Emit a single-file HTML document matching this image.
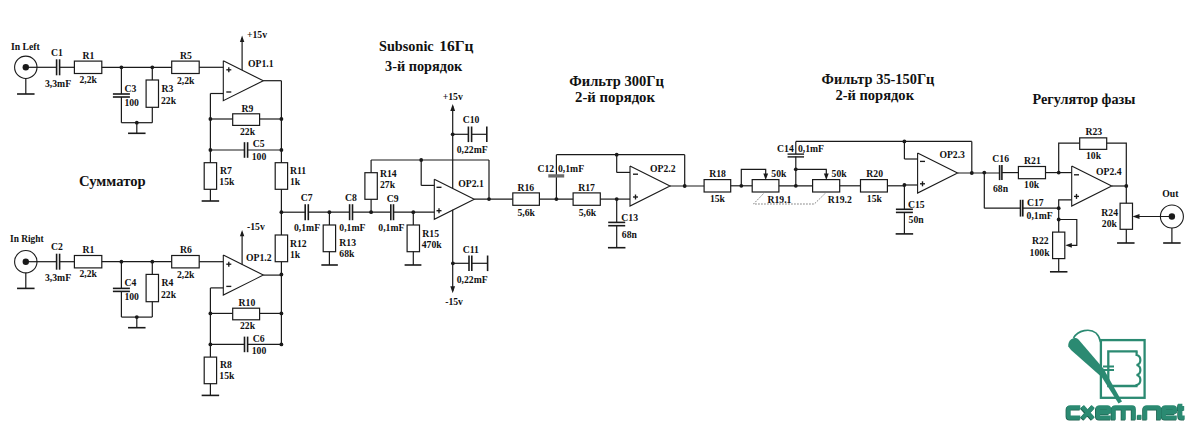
<!DOCTYPE html>
<html><head><meta charset="utf-8"><style>
html,body{margin:0;padding:0;background:#fff;}
svg{display:block}
text{font-family:"Liberation Serif",serif;font-weight:bold;fill:#111;}
</style></head><body>
<svg width="1200" height="434" viewBox="0 0 1200 434">
<rect width="1200" height="434" fill="#fff"/>
<text x="11" y="49.5" font-size="9.7">In Left</text>
<circle cx="25.8" cy="67.3" r="11.2" stroke="#1a1a1a" stroke-width="1.1" fill="none"/>
<circle cx="25.8" cy="67.3" r="3.2" fill="#1a1a1a"/>
<line x1="25.8" y1="78.5" x2="25.8" y2="94" stroke="#1a1a1a" stroke-width="1.2" />
<line x1="17.05" y1="94" x2="34.55" y2="94" stroke="#1a1a1a" stroke-width="1.6" />
<line x1="25.8" y1="67.3" x2="56.6" y2="67.3" stroke="#1a1a1a" stroke-width="1.2" />
<line x1="56.6" y1="59.3" x2="56.6" y2="75.3" stroke="#1a1a1a" stroke-width="1.6" />
<line x1="59.6" y1="59.3" x2="59.6" y2="75.3" stroke="#1a1a1a" stroke-width="1.6" />
<line x1="59.6" y1="67.3" x2="74.4" y2="67.3" stroke="#1a1a1a" stroke-width="1.2" />
<rect x="74.4" y="61.099999999999994" width="27.39999999999999" height="12.400000000000006" stroke="#1a1a1a" stroke-width="1.2" fill="none"/>
<line x1="101.8" y1="67.3" x2="171.7" y2="67.3" stroke="#1a1a1a" stroke-width="1.2" />
<rect x="171.7" y="61.099999999999994" width="27.5" height="12.400000000000006" stroke="#1a1a1a" stroke-width="1.2" fill="none"/>
<line x1="199.2" y1="67.3" x2="223.3" y2="67.3" stroke="#1a1a1a" stroke-width="1.2" />
<text x="51" y="55.8" font-size="9.7">C1</text>
<text x="45" y="87" font-size="9.7">3,3mF</text>
<text x="82.5" y="58.8" font-size="9.7">R1</text>
<text x="79.5" y="83" font-size="9.7">2,2k</text>
<circle cx="121.4" cy="67.3" r="1.9" fill="#1a1a1a"/>
<line x1="121.4" y1="67.3" x2="121.4" y2="94" stroke="#1a1a1a" stroke-width="1.2" />
<line x1="112.9" y1="94" x2="129.9" y2="94" stroke="#1a1a1a" stroke-width="1.6" />
<line x1="112.9" y1="97" x2="129.9" y2="97" stroke="#1a1a1a" stroke-width="1.6" />
<line x1="121.4" y1="97" x2="121.4" y2="122.7" stroke="#1a1a1a" stroke-width="1.2" />
<text x="124.4" y="91.7" font-size="9.7">C3</text>
<text x="124.4" y="106" font-size="9.7">100</text>
<circle cx="152.3" cy="67.3" r="1.9" fill="#1a1a1a"/>
<line x1="152.3" y1="67.3" x2="152.3" y2="80" stroke="#1a1a1a" stroke-width="1.2" />
<rect x="146.10000000000002" y="80" width="12.399999999999977" height="27.299999999999997" stroke="#1a1a1a" stroke-width="1.2" fill="none"/>
<line x1="152.3" y1="107.3" x2="152.3" y2="122.7" stroke="#1a1a1a" stroke-width="1.2" />
<text x="161.5" y="91.7" font-size="9.7">R3</text>
<text x="161" y="104" font-size="9.7">22k</text>
<line x1="121.4" y1="122.7" x2="152.3" y2="122.7" stroke="#1a1a1a" stroke-width="1.2" />
<circle cx="136.8" cy="122.7" r="1.9" fill="#1a1a1a"/>
<line x1="136.8" y1="122.7" x2="136.8" y2="133.3" stroke="#1a1a1a" stroke-width="1.2" />
<line x1="128.05" y1="133.3" x2="145.55" y2="133.3" stroke="#1a1a1a" stroke-width="1.6" />
<text x="180" y="59" font-size="9.7">R5</text>
<text x="177" y="84" font-size="9.7">2,2k</text>
<polyline points="223.3,60.7 223.3,100.7 263.3,80.7 223.3,60.7" stroke="#1a1a1a" stroke-width="1.1" fill="none" />
<line x1="226.3" y1="69.8" x2="231.3" y2="69.8" stroke="#1a1a1a" stroke-width="1.35" />
<line x1="228.8" y1="67.3" x2="228.8" y2="72.3" stroke="#1a1a1a" stroke-width="1.35" />
<line x1="226.3" y1="92" x2="231.3" y2="92" stroke="#1a1a1a" stroke-width="1.35" />
<text x="248" y="66.7" font-size="9.7">OP1.1</text>
<line x1="242.1" y1="70.1" x2="242.1" y2="38" stroke="#1a1a1a" stroke-width="1.2" />
<polygon points="242.1,35.6 239.9,41.9 244.29999999999998,41.9" fill="#1a1a1a"/>
<text x="247" y="37.6" font-size="9.7">+15v</text>
<line x1="223.3" y1="93.5" x2="210.4" y2="93.5" stroke="#1a1a1a" stroke-width="1.2" />
<line x1="210.4" y1="93.5" x2="210.4" y2="162.7" stroke="#1a1a1a" stroke-width="1.2" />
<line x1="263.3" y1="80.7" x2="281.4" y2="80.7" stroke="#1a1a1a" stroke-width="1.2" />
<line x1="210.4" y1="119" x2="232.7" y2="119" stroke="#1a1a1a" stroke-width="1.2" />
<rect x="232.7" y="113.8" width="26.900000000000034" height="11.599999999999994" stroke="#1a1a1a" stroke-width="1.2" fill="none"/>
<line x1="259.6" y1="119" x2="281.4" y2="119" stroke="#1a1a1a" stroke-width="1.2" />
<text x="241.5" y="111.7" font-size="9.7">R9</text>
<text x="240" y="135" font-size="9.7">22k</text>
<line x1="210.4" y1="150" x2="244.5" y2="150" stroke="#1a1a1a" stroke-width="1.2" />
<line x1="244.5" y1="142.2" x2="244.5" y2="157.8" stroke="#1a1a1a" stroke-width="1.6" />
<line x1="247.6" y1="142.2" x2="247.6" y2="157.8" stroke="#1a1a1a" stroke-width="1.6" />
<line x1="247.6" y1="150" x2="281.4" y2="150" stroke="#1a1a1a" stroke-width="1.2" />
<text x="252.7" y="147.3" font-size="9.7">C5</text>
<text x="251.7" y="160" font-size="9.7">100</text>
<circle cx="210.4" cy="119" r="1.9" fill="#1a1a1a"/>
<circle cx="281.4" cy="119" r="1.9" fill="#1a1a1a"/>
<circle cx="210.4" cy="150" r="1.9" fill="#1a1a1a"/>
<circle cx="281.4" cy="150" r="1.9" fill="#1a1a1a"/>
<rect x="204.20000000000002" y="162.7" width="12.399999999999977" height="26.600000000000023" stroke="#1a1a1a" stroke-width="1.2" fill="none"/>
<line x1="210.4" y1="189.3" x2="210.4" y2="201" stroke="#1a1a1a" stroke-width="1.2" />
<line x1="201.65" y1="201" x2="219.15" y2="201" stroke="#1a1a1a" stroke-width="1.6" />
<text x="220" y="174" font-size="9.7">R7</text>
<text x="219.3" y="185" font-size="9.7">15k</text>
<text x="10" y="242.0" font-size="9.4">In Right</text>
<circle cx="25.8" cy="261.7" r="11.2" stroke="#1a1a1a" stroke-width="1.1" fill="none"/>
<circle cx="25.8" cy="261.7" r="3.2" fill="#1a1a1a"/>
<line x1="25.8" y1="272.9" x2="25.8" y2="288.4" stroke="#1a1a1a" stroke-width="1.2" />
<line x1="17.05" y1="288.4" x2="34.55" y2="288.4" stroke="#1a1a1a" stroke-width="1.6" />
<line x1="25.8" y1="261.7" x2="56.6" y2="261.7" stroke="#1a1a1a" stroke-width="1.2" />
<line x1="56.6" y1="253.7" x2="56.6" y2="269.7" stroke="#1a1a1a" stroke-width="1.6" />
<line x1="59.6" y1="253.7" x2="59.6" y2="269.7" stroke="#1a1a1a" stroke-width="1.6" />
<line x1="59.6" y1="261.7" x2="74.4" y2="261.7" stroke="#1a1a1a" stroke-width="1.2" />
<rect x="74.4" y="255.5" width="27.39999999999999" height="12.399999999999977" stroke="#1a1a1a" stroke-width="1.2" fill="none"/>
<line x1="101.8" y1="261.7" x2="171.7" y2="261.7" stroke="#1a1a1a" stroke-width="1.2" />
<rect x="171.7" y="255.5" width="27.5" height="12.399999999999977" stroke="#1a1a1a" stroke-width="1.2" fill="none"/>
<line x1="199.2" y1="261.7" x2="223.3" y2="261.7" stroke="#1a1a1a" stroke-width="1.2" />
<text x="51" y="250.2" font-size="9.7">C2</text>
<text x="45" y="281.4" font-size="9.7">3,3mF</text>
<text x="82.5" y="253.2" font-size="9.7">R1</text>
<text x="79.5" y="277.4" font-size="9.7">2,2k</text>
<circle cx="121.4" cy="261.7" r="1.9" fill="#1a1a1a"/>
<line x1="121.4" y1="261.7" x2="121.4" y2="288.4" stroke="#1a1a1a" stroke-width="1.2" />
<line x1="112.9" y1="288.4" x2="129.9" y2="288.4" stroke="#1a1a1a" stroke-width="1.6" />
<line x1="112.9" y1="291.4" x2="129.9" y2="291.4" stroke="#1a1a1a" stroke-width="1.6" />
<line x1="121.4" y1="291.4" x2="121.4" y2="317.1" stroke="#1a1a1a" stroke-width="1.2" />
<text x="124.4" y="286.1" font-size="9.7">C4</text>
<text x="124.4" y="300.4" font-size="9.7">100</text>
<circle cx="152.3" cy="261.7" r="1.9" fill="#1a1a1a"/>
<line x1="152.3" y1="261.7" x2="152.3" y2="274.4" stroke="#1a1a1a" stroke-width="1.2" />
<rect x="146.10000000000002" y="274.4" width="12.399999999999977" height="27.30000000000001" stroke="#1a1a1a" stroke-width="1.2" fill="none"/>
<line x1="152.3" y1="301.7" x2="152.3" y2="317.1" stroke="#1a1a1a" stroke-width="1.2" />
<text x="161.5" y="286.1" font-size="9.7">R4</text>
<text x="161" y="298.4" font-size="9.7">22k</text>
<line x1="121.4" y1="317.1" x2="152.3" y2="317.1" stroke="#1a1a1a" stroke-width="1.2" />
<circle cx="136.8" cy="317.1" r="1.9" fill="#1a1a1a"/>
<line x1="136.8" y1="317.1" x2="136.8" y2="327.70000000000005" stroke="#1a1a1a" stroke-width="1.2" />
<line x1="128.05" y1="327.70000000000005" x2="145.55" y2="327.70000000000005" stroke="#1a1a1a" stroke-width="1.6" />
<text x="180" y="253.4" font-size="9.7">R6</text>
<text x="177" y="278.4" font-size="9.7">2,2k</text>
<polyline points="223.3,255.10000000000002 223.3,295.1 263.3,275.1 223.3,255.10000000000002" stroke="#1a1a1a" stroke-width="1.1" fill="none" />
<line x1="226.3" y1="264.2" x2="231.3" y2="264.2" stroke="#1a1a1a" stroke-width="1.35" />
<line x1="228.8" y1="261.7" x2="228.8" y2="266.7" stroke="#1a1a1a" stroke-width="1.35" />
<line x1="226.3" y1="286.4" x2="231.3" y2="286.4" stroke="#1a1a1a" stroke-width="1.35" />
<text x="246" y="261.1" font-size="9.7">OP1.2</text>
<line x1="242.1" y1="264.5" x2="242.1" y2="232.4" stroke="#1a1a1a" stroke-width="1.2" />
<polygon points="242.1,230.0 239.9,236.3 244.29999999999998,236.3" fill="#1a1a1a"/>
<text x="247" y="230.0" font-size="9.7">-15v</text>
<line x1="223.3" y1="287.9" x2="210.4" y2="287.9" stroke="#1a1a1a" stroke-width="1.2" />
<line x1="210.4" y1="287.9" x2="210.4" y2="357.1" stroke="#1a1a1a" stroke-width="1.2" />
<line x1="263.3" y1="275.1" x2="281.4" y2="275.1" stroke="#1a1a1a" stroke-width="1.2" />
<line x1="210.4" y1="313.4" x2="232.7" y2="313.4" stroke="#1a1a1a" stroke-width="1.2" />
<rect x="232.7" y="308.2" width="26.900000000000034" height="11.600000000000023" stroke="#1a1a1a" stroke-width="1.2" fill="none"/>
<line x1="259.6" y1="313.4" x2="281.4" y2="313.4" stroke="#1a1a1a" stroke-width="1.2" />
<text x="238.6" y="306.1" font-size="9.7">R10</text>
<text x="240" y="329.4" font-size="9.7">22k</text>
<line x1="210.4" y1="344.4" x2="244.5" y2="344.4" stroke="#1a1a1a" stroke-width="1.2" />
<line x1="244.5" y1="336.59999999999997" x2="244.5" y2="352.2" stroke="#1a1a1a" stroke-width="1.6" />
<line x1="247.6" y1="336.59999999999997" x2="247.6" y2="352.2" stroke="#1a1a1a" stroke-width="1.6" />
<line x1="247.6" y1="344.4" x2="281.4" y2="344.4" stroke="#1a1a1a" stroke-width="1.2" />
<text x="252.7" y="341.70000000000005" font-size="9.7">C6</text>
<text x="251.7" y="354.4" font-size="9.7">100</text>
<circle cx="210.4" cy="313.4" r="1.9" fill="#1a1a1a"/>
<circle cx="281.4" cy="313.4" r="1.9" fill="#1a1a1a"/>
<circle cx="210.4" cy="344.4" r="1.9" fill="#1a1a1a"/>
<circle cx="281.4" cy="344.4" r="1.9" fill="#1a1a1a"/>
<rect x="204.20000000000002" y="357.1" width="12.399999999999977" height="26.600000000000023" stroke="#1a1a1a" stroke-width="1.2" fill="none"/>
<line x1="210.4" y1="383.70000000000005" x2="210.4" y2="395.4" stroke="#1a1a1a" stroke-width="1.2" />
<line x1="201.65" y1="395.4" x2="219.15" y2="395.4" stroke="#1a1a1a" stroke-width="1.6" />
<text x="220" y="368.4" font-size="9.7">R8</text>
<text x="219.3" y="379.4" font-size="9.7">15k</text>
<line x1="281.4" y1="80.7" x2="281.4" y2="162.7" stroke="#1a1a1a" stroke-width="1.2" />
<rect x="275.2" y="162.7" width="12.399999999999977" height="26.600000000000023" stroke="#1a1a1a" stroke-width="1.2" fill="none"/>
<line x1="281.4" y1="189.3" x2="281.4" y2="235" stroke="#1a1a1a" stroke-width="1.2" />
<rect x="275.2" y="235" width="12.399999999999977" height="26.69999999999999" stroke="#1a1a1a" stroke-width="1.2" fill="none"/>
<line x1="281.4" y1="261.7" x2="281.4" y2="344" stroke="#1a1a1a" stroke-width="1.2" />
<circle cx="281.4" cy="212.2" r="1.9" fill="#1a1a1a"/>
<circle cx="281.4" cy="274.5" r="1.9" fill="#1a1a1a"/>
<text x="290" y="174.3" font-size="9.7">R11</text>
<text x="290" y="185" font-size="9.7">1k</text>
<text x="290" y="247.3" font-size="9.7">R12</text>
<text x="290" y="258.3" font-size="9.7">1k</text>
<text x="79" y="185.6" font-size="15" textLength="66.7" lengthAdjust="spacingAndGlyphs">Сумматор</text>
<line x1="281.4" y1="212.2" x2="305.2" y2="212.2" stroke="#1a1a1a" stroke-width="1.2" />
<line x1="305.2" y1="204.2" x2="305.2" y2="220.2" stroke="#1a1a1a" stroke-width="1.6" />
<line x1="308.3" y1="204.2" x2="308.3" y2="220.2" stroke="#1a1a1a" stroke-width="1.6" />
<line x1="308.3" y1="212.2" x2="349.6" y2="212.2" stroke="#1a1a1a" stroke-width="1.2" />
<line x1="349.6" y1="204.2" x2="349.6" y2="220.2" stroke="#1a1a1a" stroke-width="1.6" />
<line x1="352.5" y1="204.2" x2="352.5" y2="220.2" stroke="#1a1a1a" stroke-width="1.6" />
<line x1="352.5" y1="212.2" x2="390.8" y2="212.2" stroke="#1a1a1a" stroke-width="1.2" />
<line x1="390.8" y1="204.2" x2="390.8" y2="220.2" stroke="#1a1a1a" stroke-width="1.6" />
<line x1="393.5" y1="204.2" x2="393.5" y2="220.2" stroke="#1a1a1a" stroke-width="1.6" />
<line x1="393.5" y1="212.2" x2="434.3" y2="212.2" stroke="#1a1a1a" stroke-width="1.2" />
<text x="300.7" y="200.7" font-size="9.7">C7</text>
<text x="294" y="230.5" font-size="9.7">0,1mF</text>
<circle cx="329.4" cy="212.2" r="1.9" fill="#1a1a1a"/>
<line x1="329.4" y1="212.2" x2="329.4" y2="225" stroke="#1a1a1a" stroke-width="1.2" />
<rect x="323.2" y="225" width="12.399999999999977" height="26.69999999999999" stroke="#1a1a1a" stroke-width="1.2" fill="none"/>
<line x1="329.4" y1="251.7" x2="329.4" y2="265" stroke="#1a1a1a" stroke-width="1.2" />
<line x1="321.35" y1="265" x2="337.85" y2="265" stroke="#1a1a1a" stroke-width="1.6" />
<text x="339.3" y="245.7" font-size="9.7">R13</text>
<text x="339.3" y="256.7" font-size="9.7">68k</text>
<text x="345" y="201" font-size="9.7">C8</text>
<text x="339.3" y="230.5" font-size="9.7">0,1mF</text>
<circle cx="371.1" cy="212.2" r="1.9" fill="#1a1a1a"/>
<line x1="371.1" y1="212.2" x2="371.1" y2="199.3" stroke="#1a1a1a" stroke-width="1.2" />
<rect x="364.90000000000003" y="172.7" width="12.399999999999977" height="26.600000000000023" stroke="#1a1a1a" stroke-width="1.2" fill="none"/>
<line x1="371.1" y1="172.7" x2="371.1" y2="160" stroke="#1a1a1a" stroke-width="1.2" />
<line x1="371.1" y1="160" x2="489" y2="160" stroke="#1a1a1a" stroke-width="1.2" />
<text x="380" y="177.3" font-size="9.7">R14</text>
<text x="380" y="188.3" font-size="9.7">27k</text>
<text x="386.7" y="201.5" font-size="9.7">C9</text>
<text x="378.3" y="231" font-size="9.7">0,1mF</text>
<circle cx="413.3" cy="212.2" r="1.9" fill="#1a1a1a"/>
<line x1="413.3" y1="212.2" x2="413.3" y2="225" stroke="#1a1a1a" stroke-width="1.2" />
<rect x="407.1" y="225" width="12.399999999999977" height="26.69999999999999" stroke="#1a1a1a" stroke-width="1.2" fill="none"/>
<line x1="413.3" y1="251.7" x2="413.3" y2="265" stroke="#1a1a1a" stroke-width="1.2" />
<line x1="404.6" y1="265" x2="421.4" y2="265" stroke="#1a1a1a" stroke-width="1.6" />
<text x="422.3" y="237.3" font-size="9.7">R15</text>
<text x="421.7" y="248.3" font-size="9.7">470k</text>
<polyline points="434.3,179.3 434.3,219.3 474.3,199.3 434.3,179.3" stroke="#1a1a1a" stroke-width="1.1" fill="none" />
<line x1="436.5" y1="210.7" x2="441.5" y2="210.7" stroke="#1a1a1a" stroke-width="1.35" />
<line x1="439" y1="208.2" x2="439" y2="213.2" stroke="#1a1a1a" stroke-width="1.35" />
<line x1="436.5" y1="187.3" x2="441.5" y2="187.3" stroke="#1a1a1a" stroke-width="1.35" />
<text x="458.3" y="186.7" font-size="9.7">OP2.1</text>
<circle cx="421.2" cy="160" r="1.9" fill="#1a1a1a"/>
<line x1="421.2" y1="160" x2="421.2" y2="185.4" stroke="#1a1a1a" stroke-width="1.2" />
<line x1="421.2" y1="185.4" x2="434.3" y2="185.4" stroke="#1a1a1a" stroke-width="1.2" />
<line x1="474.3" y1="199.1" x2="512.8" y2="199.1" stroke="#1a1a1a" stroke-width="1.2" />
<circle cx="489" cy="199.1" r="1.9" fill="#1a1a1a"/>
<line x1="489" y1="199.1" x2="489" y2="160" stroke="#1a1a1a" stroke-width="1.2" />
<line x1="452.7" y1="188.2" x2="452.7" y2="106" stroke="#1a1a1a" stroke-width="1.2" />
<polygon points="452.7,104 450.3,111 455.09999999999997,111" fill="#1a1a1a"/>
<text x="442.7" y="100" font-size="9.7">+15v</text>
<circle cx="452.7" cy="134.3" r="1.9" fill="#1a1a1a"/>
<line x1="452.7" y1="134.3" x2="468.4" y2="134.3" stroke="#1a1a1a" stroke-width="1.2" />
<line x1="468.4" y1="126.50000000000001" x2="468.4" y2="142.10000000000002" stroke="#1a1a1a" stroke-width="1.6" />
<line x1="471.6" y1="126.50000000000001" x2="471.6" y2="142.10000000000002" stroke="#1a1a1a" stroke-width="1.6" />
<line x1="471.6" y1="134.3" x2="486.8" y2="134.3" stroke="#1a1a1a" stroke-width="1.2" />
<line x1="486.8" y1="126.5" x2="486.8" y2="142.1" stroke="#1a1a1a" stroke-width="1.6" />
<text x="462.7" y="123.3" font-size="9.7">C10</text>
<text x="456.7" y="152.5" font-size="9.7">0,22mF</text>
<line x1="452.7" y1="209.8" x2="452.7" y2="291" stroke="#1a1a1a" stroke-width="1.2" />
<polygon points="452.7,293.3 450.3,286.3 455.09999999999997,286.3" fill="#1a1a1a"/>
<circle cx="452.9" cy="263.3" r="1.9" fill="#1a1a1a"/>
<line x1="452.9" y1="263.3" x2="469" y2="263.3" stroke="#1a1a1a" stroke-width="1.2" />
<line x1="469" y1="255.5" x2="469" y2="271.1" stroke="#1a1a1a" stroke-width="1.6" />
<line x1="471.8" y1="255.5" x2="471.8" y2="271.1" stroke="#1a1a1a" stroke-width="1.6" />
<line x1="471.8" y1="263.3" x2="487.6" y2="263.3" stroke="#1a1a1a" stroke-width="1.2" />
<line x1="487.6" y1="255.5" x2="487.6" y2="271.1" stroke="#1a1a1a" stroke-width="1.6" />
<text x="462.7" y="253.3" font-size="9.7">C11</text>
<text x="456.7" y="282.5" font-size="9.7">0,22mF</text>
<text x="445.2" y="305" font-size="9.7">-15v</text>
<text x="379" y="51.4" font-size="15" textLength="54.7" lengthAdjust="spacingAndGlyphs">Subsonic</text>
<text x="439.3" y="51.4" font-size="15" textLength="34.2" lengthAdjust="spacingAndGlyphs">16Гц</text>
<text x="385" y="71.3" font-size="15" textLength="77.3" lengthAdjust="spacingAndGlyphs">3-й порядок</text>
<rect x="512.8" y="192.9" width="26.600000000000023" height="12.399999999999977" stroke="#1a1a1a" stroke-width="1.2" fill="none"/>
<line x1="539.4" y1="199.1" x2="573.1" y2="199.1" stroke="#1a1a1a" stroke-width="1.2" />
<rect x="573.1" y="192.9" width="27.199999999999932" height="12.399999999999977" stroke="#1a1a1a" stroke-width="1.2" fill="none"/>
<line x1="600.3" y1="199.1" x2="630" y2="199.1" stroke="#1a1a1a" stroke-width="1.2" />
<text x="517.4" y="190.7" font-size="9.7">R16</text>
<text x="517.4" y="215.5" font-size="9.7">5,6k</text>
<text x="578.2" y="190.7" font-size="9.7">R17</text>
<text x="578.7" y="215.5" font-size="9.7">5,6k</text>
<circle cx="556.4" cy="199.1" r="1.9" fill="#1a1a1a"/>
<line x1="556.4" y1="199.1" x2="556.4" y2="154.7" stroke="#1a1a1a" stroke-width="1.2" />
<line x1="548.3" y1="175.9" x2="564.2" y2="175.9" stroke="#6a6a6a" stroke-width="3.3" />
<line x1="556.4" y1="154.7" x2="684.7" y2="154.7" stroke="#1a1a1a" stroke-width="1.2" />
<circle cx="616.7" cy="154.7" r="1.9" fill="#1a1a1a"/>
<line x1="616.7" y1="154.7" x2="616.7" y2="172.4" stroke="#1a1a1a" stroke-width="1.2" />
<line x1="616.7" y1="172.4" x2="630" y2="172.4" stroke="#1a1a1a" stroke-width="1.2" />
<text x="537.4" y="171.7" font-size="9.7">C12</text>
<text x="558" y="171.7" font-size="9.7">0,1mF</text>
<polyline points="630,166 630,206 670,186.0 630,166" stroke="#1a1a1a" stroke-width="1.1" fill="none" />
<line x1="633.0" y1="197" x2="638.0" y2="197" stroke="#1a1a1a" stroke-width="1.35" />
<line x1="635.5" y1="194.5" x2="635.5" y2="199.5" stroke="#1a1a1a" stroke-width="1.35" />
<line x1="633.0" y1="174.2" x2="638.0" y2="174.2" stroke="#1a1a1a" stroke-width="1.35" />
<text x="650" y="171.7" font-size="9.7">OP2.2</text>
<line x1="670" y1="186" x2="704.1" y2="186" stroke="#1a1a1a" stroke-width="1.2" />
<circle cx="684.7" cy="186" r="1.9" fill="#1a1a1a"/>
<line x1="684.7" y1="186" x2="684.7" y2="154.7" stroke="#1a1a1a" stroke-width="1.2" />
<circle cx="616.7" cy="199.1" r="1.9" fill="#1a1a1a"/>
<line x1="616.7" y1="199.1" x2="616.7" y2="222.4" stroke="#1a1a1a" stroke-width="1.2" />
<line x1="608.2" y1="222.4" x2="625.2" y2="222.4" stroke="#1a1a1a" stroke-width="1.6" />
<line x1="608.2" y1="225.7" x2="625.2" y2="225.7" stroke="#1a1a1a" stroke-width="1.6" />
<line x1="616.7" y1="225.7" x2="616.7" y2="247.7" stroke="#1a1a1a" stroke-width="1.2" />
<line x1="607.95" y1="247.7" x2="625.45" y2="247.7" stroke="#1a1a1a" stroke-width="1.6" />
<text x="621.3" y="221" font-size="9.7">C13</text>
<text x="621.8" y="237.5" font-size="9.7">68n</text>
<text x="569.3" y="86.4" font-size="15" textLength="94.7" lengthAdjust="spacingAndGlyphs">Фильтр 300Гц</text>
<text x="575" y="101.5" font-size="15" textLength="80" lengthAdjust="spacingAndGlyphs">2-й порядок</text>
<rect x="704.1" y="179.60000000000002" width="26.600000000000023" height="12.399999999999977" stroke="#1a1a1a" stroke-width="1.2" fill="none"/>
<line x1="730.7" y1="185.8" x2="752.2" y2="185.8" stroke="#1a1a1a" stroke-width="1.2" />
<rect x="752.2" y="179.60000000000002" width="26.699999999999932" height="12.399999999999977" stroke="#1a1a1a" stroke-width="1.2" fill="none"/>
<line x1="778.9" y1="185.8" x2="812.6" y2="185.8" stroke="#1a1a1a" stroke-width="1.2" />
<rect x="812.6" y="179.60000000000002" width="27.100000000000023" height="12.399999999999977" stroke="#1a1a1a" stroke-width="1.2" fill="none"/>
<line x1="839.7" y1="185.8" x2="860.5" y2="185.8" stroke="#1a1a1a" stroke-width="1.2" />
<rect x="860.5" y="179.60000000000002" width="26.899999999999977" height="12.399999999999977" stroke="#1a1a1a" stroke-width="1.2" fill="none"/>
<line x1="887.4" y1="185.8" x2="904.4" y2="185.8" stroke="#1a1a1a" stroke-width="1.2" />
<line x1="904.4" y1="185" x2="917.6" y2="185" stroke="#1a1a1a" stroke-width="1.2" />
<text x="709.2" y="176.9" font-size="9.7">R18</text>
<text x="709.9" y="202.2" font-size="9.7">15k</text>
<circle cx="741.3" cy="185.8" r="1.9" fill="#1a1a1a"/>
<polyline points="741.3,185.8 741.3,169.3 765.7,169.3 765.7,174" stroke="#1a1a1a" stroke-width="1.2" fill="none" />
<polygon points="765.7,180 763.3000000000001,173.5 768.1,173.5" fill="#1a1a1a"/>
<text x="771.3" y="177.4" font-size="9.7">50k</text>
<text x="767.5" y="203" font-size="9.7">R19.1</text>
<circle cx="795.8" cy="185.8" r="1.9" fill="#1a1a1a"/>
<circle cx="795.8" cy="169.3" r="1.9" fill="#1a1a1a"/>
<polyline points="795.8,169.3 826.3,169.3 826.3,174" stroke="#1a1a1a" stroke-width="1.2" fill="none" />
<polygon points="826.3,180 823.9,173.5 828.6999999999999,173.5" fill="#1a1a1a"/>
<text x="831.6" y="177.4" font-size="9.7">50k</text>
<text x="827.8" y="203" font-size="9.7">R19.2</text>
<text x="866.3" y="176.9" font-size="9.7">R20</text>
<text x="866.8" y="202.2" font-size="9.7">15k</text>
<line x1="795.8" y1="185.8" x2="795.8" y2="156.6" stroke="#1a1a1a" stroke-width="1.2" />
<line x1="787.55" y1="154.1" x2="804.05" y2="154.1" stroke="#1a1a1a" stroke-width="1.4" />
<line x1="787.55" y1="156.9" x2="804.05" y2="156.9" stroke="#1a1a1a" stroke-width="1.4" />
<line x1="795.8" y1="154.1" x2="795.8" y2="141.4" stroke="#1a1a1a" stroke-width="1.2" />
<line x1="795.8" y1="141.4" x2="971.8" y2="141.4" stroke="#1a1a1a" stroke-width="1.2" />
<text x="777.1" y="151.5" font-size="9.7">C14</text>
<text x="797.9" y="151.5" font-size="9.7">0,1mF</text>
<polyline points="764.9,192.1 753.5,204 814.3,204 826.5,192.1" stroke="#7a7a7a" stroke-width="0.9" fill="none" stroke-dasharray="1.8,1.2"/>
<polyline points="917.6,153 917.6,193 957.6,173.0 917.6,153" stroke="#1a1a1a" stroke-width="1.1" fill="none" />
<line x1="920.0" y1="183.8" x2="925.0" y2="183.8" stroke="#1a1a1a" stroke-width="1.35" />
<line x1="922.5" y1="181.3" x2="922.5" y2="186.3" stroke="#1a1a1a" stroke-width="1.35" />
<line x1="920.0" y1="161.4" x2="925.0" y2="161.4" stroke="#1a1a1a" stroke-width="1.35" />
<text x="939.4" y="158.4" font-size="9.7">OP2.3</text>
<circle cx="904.4" cy="141.4" r="1.9" fill="#1a1a1a"/>
<line x1="904.4" y1="141.4" x2="904.4" y2="159" stroke="#1a1a1a" stroke-width="1.2" />
<line x1="904.4" y1="159" x2="917.6" y2="159" stroke="#1a1a1a" stroke-width="1.2" />
<circle cx="904.4" cy="185" r="1.9" fill="#1a1a1a"/>
<line x1="904.4" y1="185" x2="904.4" y2="209.3" stroke="#1a1a1a" stroke-width="1.2" />
<line x1="895.9" y1="209.3" x2="912.9" y2="209.3" stroke="#1a1a1a" stroke-width="1.6" />
<line x1="895.9" y1="212.4" x2="912.9" y2="212.4" stroke="#1a1a1a" stroke-width="1.6" />
<line x1="904.4" y1="212.4" x2="904.4" y2="233.9" stroke="#1a1a1a" stroke-width="1.2" />
<line x1="895.65" y1="233.9" x2="913.15" y2="233.9" stroke="#1a1a1a" stroke-width="1.6" />
<text x="908" y="207.8" font-size="9.7">C15</text>
<text x="908.6" y="222.5" font-size="9.7">50n</text>
<line x1="957.6" y1="173" x2="999.5" y2="173" stroke="#1a1a1a" stroke-width="1.2" />
<circle cx="971.8" cy="173" r="1.9" fill="#1a1a1a"/>
<line x1="971.8" y1="173" x2="971.8" y2="141.4" stroke="#1a1a1a" stroke-width="1.2" />
<text x="821.6" y="83.7" font-size="15" textLength="112.8" lengthAdjust="spacingAndGlyphs">Фильтр 35-150Гц</text>
<text x="835.4" y="99.5" font-size="15" textLength="78.6" lengthAdjust="spacingAndGlyphs">2-й порядок</text>
<circle cx="984.3" cy="172.6" r="1.9" fill="#1a1a1a"/>
<line x1="999.6" y1="165.1" x2="999.6" y2="180.1" stroke="#1a1a1a" stroke-width="1.6" />
<line x1="1001.9" y1="165.1" x2="1001.9" y2="180.1" stroke="#1a1a1a" stroke-width="1.6" />
<line x1="1001.9" y1="172.6" x2="1018.4" y2="172.6" stroke="#1a1a1a" stroke-width="1.2" />
<rect x="1018.4" y="166.5" width="27.100000000000023" height="12.199999999999989" stroke="#1a1a1a" stroke-width="1.2" fill="none"/>
<line x1="1045.5" y1="172.6" x2="1071.7" y2="172.6" stroke="#1a1a1a" stroke-width="1.2" />
<text x="992.3" y="162.3" font-size="9.7">C16</text>
<text x="993" y="191.5" font-size="9.7">68n</text>
<text x="1024.1" y="164" font-size="9.7">R21</text>
<text x="1024.1" y="188.3" font-size="9.7">10k</text>
<line x1="984.3" y1="172.6" x2="984.3" y2="208.2" stroke="#1a1a1a" stroke-width="1.2" />
<line x1="984.3" y1="208.2" x2="1020.5" y2="208.2" stroke="#1a1a1a" stroke-width="1.2" />
<line x1="1020.5" y1="199.79999999999998" x2="1020.5" y2="216.6" stroke="#1a1a1a" stroke-width="1.6" />
<line x1="1022.8" y1="199.79999999999998" x2="1022.8" y2="216.6" stroke="#1a1a1a" stroke-width="1.6" />
<line x1="1022.8" y1="208.2" x2="1058.7" y2="208.2" stroke="#1a1a1a" stroke-width="1.2" />
<text x="1027" y="206.2" font-size="9.7">C17</text>
<text x="1026.6" y="218.5" font-size="9.7">0,1mF</text>
<circle cx="1058.7" cy="172.6" r="1.9" fill="#1a1a1a"/>
<polyline points="1058.7,172.6 1058.7,143.1 1079.7,143.1" stroke="#1a1a1a" stroke-width="1.2" fill="none" />
<rect x="1079.7" y="137.85" width="27.0" height="11.5" stroke="#1a1a1a" stroke-width="1.2" fill="none"/>
<polyline points="1106.7,143.1 1126.3,143.1 1126.3,203.2" stroke="#1a1a1a" stroke-width="1.2" fill="none" />
<text x="1085.4" y="135.3" font-size="9.7">R23</text>
<text x="1086" y="159" font-size="9.7">10k</text>
<polyline points="1071.7,166 1071.7,206 1111.7,186.0 1071.7,166" stroke="#1a1a1a" stroke-width="1.1" fill="none" />
<line x1="1074.0" y1="196.4" x2="1079.0" y2="196.4" stroke="#1a1a1a" stroke-width="1.35" />
<line x1="1076.5" y1="193.9" x2="1076.5" y2="198.9" stroke="#1a1a1a" stroke-width="1.35" />
<line x1="1074.0" y1="174.8" x2="1079.0" y2="174.8" stroke="#1a1a1a" stroke-width="1.35" />
<text x="1096" y="174.8" font-size="9.7">OP2.4</text>
<line x1="1111.7" y1="186" x2="1126.3" y2="186" stroke="#1a1a1a" stroke-width="1.2" />
<circle cx="1126.3" cy="186" r="1.9" fill="#1a1a1a"/>
<circle cx="1058.7" cy="208.2" r="1.9" fill="#1a1a1a"/>
<polyline points="1058.7,208.2 1058.7,199.8 1071.7,199.8" stroke="#1a1a1a" stroke-width="1.2" fill="none" />
<line x1="1058.7" y1="208.2" x2="1058.7" y2="232.1" stroke="#1a1a1a" stroke-width="1.2" />
<circle cx="1058.7" cy="219.5" r="1.9" fill="#1a1a1a"/>
<polyline points="1058.7,219.5 1076.8,219.5 1076.8,245.3 1071,245.3" stroke="#1a1a1a" stroke-width="1.2" fill="none" />
<polygon points="1065.3,245.3 1071.8,242.9 1071.8,247.70000000000002" fill="#1a1a1a"/>
<rect x="1052.6000000000001" y="232.1" width="12.199999999999818" height="26.50000000000003" stroke="#1a1a1a" stroke-width="1.2" fill="none"/>
<line x1="1058.7" y1="258.6" x2="1058.7" y2="271.8" stroke="#1a1a1a" stroke-width="1.2" />
<line x1="1049.95" y1="271.8" x2="1067.45" y2="271.8" stroke="#1a1a1a" stroke-width="1.6" />
<text x="1031.9" y="244" font-size="9.7">R22</text>
<text x="1029.6" y="255.5" font-size="9.7">100k</text>
<rect x="1120.1" y="203.2" width="12.400000000000091" height="26.100000000000023" stroke="#1a1a1a" stroke-width="1.2" fill="none"/>
<line x1="1126.3" y1="229.3" x2="1126.3" y2="243" stroke="#1a1a1a" stroke-width="1.2" />
<line x1="1117.05" y1="243" x2="1134.55" y2="243" stroke="#1a1a1a" stroke-width="1.6" />
<text x="1101.3" y="216" font-size="9.7">R24</text>
<text x="1101.8" y="227" font-size="9.7">20k</text>
<line x1="1171.9" y1="216.5" x2="1139" y2="216.5" stroke="#1a1a1a" stroke-width="1.2" />
<polygon points="1132.5,216.5 1139.5,213.9 1139.5,219.1" fill="#1a1a1a"/>
<circle cx="1171.9" cy="216.5" r="11.5" stroke="#1a1a1a" stroke-width="1.1" fill="none"/>
<circle cx="1171.9" cy="216.5" r="3.2" fill="#1a1a1a"/>
<line x1="1171.9" y1="228.0" x2="1171.9" y2="243" stroke="#1a1a1a" stroke-width="1.2" />
<line x1="1163.15" y1="243" x2="1180.65" y2="243" stroke="#1a1a1a" stroke-width="1.6" />
<text x="1162.3" y="197" font-size="9.7">Out</text>
<text x="1032.5" y="104" font-size="15" textLength="102.9" lengthAdjust="spacingAndGlyphs">Регулятор фазы</text>
<g fill="none" stroke="#2b8a72" stroke-linejoin="miter">
<rect x="1100.9" y="340.1" width="43.7" height="57.7" stroke-width="2.3"/>
<path d="M1137.6,351.4 H1108.3 V386 H1137.6" stroke-width="2.3"/>
<path d="M1136.6,351.4 V355 c5,1 5,9 0,10 c5,1 5,9 0,10 c5,1 5,9 0,10 V386" stroke-width="2.2"/>
<path d="M1103,366.5 H1114 M1103,370 H1114" stroke-width="1.8"/>
<path d="M1073.5,338 C1078,330 1090,328 1096,333 C1099,336 1100,339 1100.5,342" stroke-width="1.6"/>
</g>
<path d="M1068.3,346.5 C1067.5,340 1074,335.5 1078.5,339.5 L1105.5,371 L1101,376.5 L1071,350 Z" fill="#2b8a72"/>
<path d="M1099.5,373.5 L1104.5,370.5 L1122,401.5 L1118.5,403.5 Z" fill="#2b8a72"/>
<g fill="none" stroke-width="4.4"><path d="M1080.3,407.5 H1070.2 Q1068.5,407.5 1068.5,409.2 V415.9 Q1068.5,417.6 1070.2,417.6 H1080.3 M1082.3,406.5 L1093.2,418.6 M1093.2,406.5 L1082.3,418.6 M1109,412.3 H1097.9 M1097.9,409.2 Q1097.9,407.5 1099.6,407.5 H1107.3 Q1109,407.5 1109,409.2 V413 M1097.9,408.5 V415.9 Q1097.9,417.6 1099.6,417.6 H1110.8 M1113.6,419.8 V409.2 Q1113.6,407.5 1115.3,407.5 H1132 Q1133.7,407.5 1133.7,409.2 V419.8 M1123.6,407.5 V419.8 M1145.1,419.8 V409.2 Q1145.1,407.5 1146.8,407.5 H1157.3 Q1159,407.5 1159,409.2 V419.8 M1174.8,412.3 H1163.7 M1163.7,409.2 Q1163.7,407.5 1165.4,407.5 H1173.1 Q1174.8,407.5 1174.8,409.2 V413 M1163.7,408.5 V415.9 Q1163.7,417.6 1165.4,417.6 H1176.8 M1180.2,403.7 V415.9 Q1180.2,417.6 1181.9,417.6 H1184.7 M1177.4,408.2 H1184.2" stroke="#1d5e4c" transform="translate(-0.7,0.7)"/><path d="M1080.3,407.5 H1070.2 Q1068.5,407.5 1068.5,409.2 V415.9 Q1068.5,417.6 1070.2,417.6 H1080.3 M1082.3,406.5 L1093.2,418.6 M1093.2,406.5 L1082.3,418.6 M1109,412.3 H1097.9 M1097.9,409.2 Q1097.9,407.5 1099.6,407.5 H1107.3 Q1109,407.5 1109,409.2 V413 M1097.9,408.5 V415.9 Q1097.9,417.6 1099.6,417.6 H1110.8 M1113.6,419.8 V409.2 Q1113.6,407.5 1115.3,407.5 H1132 Q1133.7,407.5 1133.7,409.2 V419.8 M1123.6,407.5 V419.8 M1145.1,419.8 V409.2 Q1145.1,407.5 1146.8,407.5 H1157.3 Q1159,407.5 1159,409.2 V419.8 M1174.8,412.3 H1163.7 M1163.7,409.2 Q1163.7,407.5 1165.4,407.5 H1173.1 Q1174.8,407.5 1174.8,409.2 V413 M1163.7,408.5 V415.9 Q1163.7,417.6 1165.4,417.6 H1176.8 M1180.2,403.7 V415.9 Q1180.2,417.6 1181.9,417.6 H1184.7 M1177.4,408.2 H1184.2" stroke="#2b8a72"/></g>
<rect x="1136.8" y="415.4" width="4.4" height="4.4" fill="#1d5e4c"/><rect x="1137.4" y="414.8" width="4" height="4.4" fill="#2b8a72"/>
</svg></body></html>
